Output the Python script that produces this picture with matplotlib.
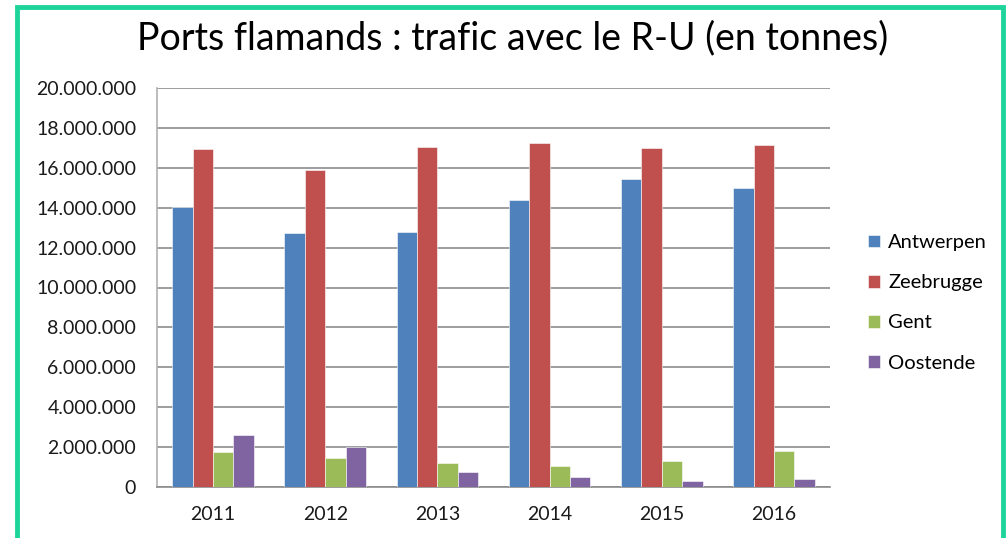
import matplotlib

matplotlib.use("Agg")
import matplotlib.pyplot as plt
import numpy as np
from matplotlib.patches import Rectangle
from matplotlib.ticker import FuncFormatter

plt.rcParams["font.family"] = ["Lato", "DejaVu Sans"]

years = ["2011", "2012", "2013", "2014", "2015", "2016"]
ports = ["Antwerpen", "Zeebrugge", "Gent", "Oostende"]
antwerpen = [14.02e6, 12.73e6, 12.78e6, 14.37e6, 15.44e6, 14.97e6]
zeebrugge = [16.94e6, 15.89e6, 17.03e6, 17.23e6, 17.01e6, 17.13e6]
gent = [1.74e6, 1.47e6, 1.20e6, 1.07e6, 1.30e6, 1.79e6]
oostende = [2.61e6, 1.99e6, 0.77e6, 0.49e6, 0.29e6, 0.39e6]
series = [antwerpen, zeebrugge, gent, oostende]
colors = ["#4f81bd", "#c0504d", "#9bbb59", "#8064a2"]

W, H = 1006, 538
fig = plt.figure(figsize=(W / 100, H / 100), dpi=100)
ax = fig.add_axes([157 / W, 1 - 487 / H, (830 - 157) / W, (487 - 88) / H])

x = np.arange(len(years))
bw = 1 / 5.5
for i, (vals, col, name) in enumerate(zip(series, colors, ports)):
    ax.bar(x + (i - 1.5) * bw, vals, width=bw, color=col, label=name,
           edgecolor="white", linewidth=0.4, zorder=3)

ax.set_xlim(-0.5, len(years) - 0.5)
ax.set_ylim(0, 20e6)
ax.set_yticks(np.arange(0, 20e6 + 1, 2e6))
ax.yaxis.set_major_formatter(FuncFormatter(lambda v, _: f"{int(v):,}".replace(",", ".")))
ax.set_xticks(x)
ax.set_xticklabels(years)
ax.tick_params(axis="both", length=0, labelsize=14, colors="#1a1a1a")
ax.tick_params(axis="y", pad=15)
ax.tick_params(axis="x", pad=14)
ax.grid(axis="y", color="#8c8c8c", linewidth=1.2, zorder=0)
for s in ["top", "right"]:
    ax.spines[s].set_visible(False)
ax.spines["left"].set_color("#b0b0b0")
ax.spines["bottom"].set_color("#8c8c8c")
ax.spines["left"].set_linewidth(1.2)
ax.spines["bottom"].set_linewidth(1.2)

fig.text(513 / W, 1 - 38 / H, "Ports flamands : trafic avec le R-U (en tonnes)",
         ha="center", va="center", fontsize=27, color="#000000")

leg = fig.legend(loc="upper left", bbox_to_anchor=(850 / W, 1 - 216 / H), frameon=False,
                 fontsize=14.5, handlelength=0.6, handleheight=0.6, handletextpad=0.4,
                 labelspacing=1.15)

fig.patches.append(Rectangle((17 / W, -0.05), (1003 - 17) / W, 1.05 - 7 / H,
                             transform=fig.transFigure, fill=False,
                             edgecolor="#1ed49a", linewidth=3.5))

fig.savefig("out.png", dpi=100)
